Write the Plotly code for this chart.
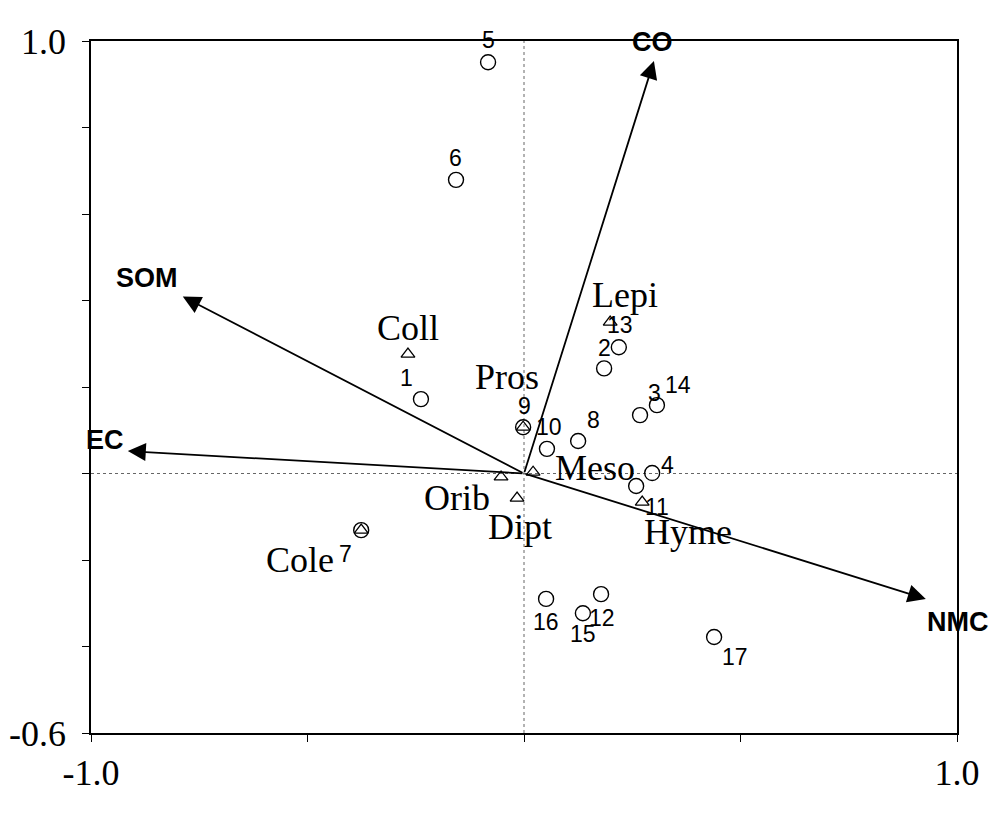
import plotly.graph_objects as go

# ---- data ----
site_ids = [str(i) for i in range(1, 18)]
site_x = [-0.238, 0.185, 0.268, 0.296, -0.083, -0.157, -0.376, 0.125, -0.002,
          0.053, 0.259, 0.178, 0.219, 0.307, 0.136, 0.051, 0.439]
site_y = [0.172, 0.243, 0.135, 0.001, 0.951, 0.679, -0.131, 0.075, 0.107,
          0.057, -0.029, -0.279, 0.292, 0.158, -0.323, -0.290, -0.378]

species_names = ["Coll", "Pros", "Lepi", "Meso", "Orib", "Dipt", "Hyme", "Cole"]
species_x = [-0.268, -0.002, 0.199, 0.021, -0.053, -0.016, 0.273, -0.376]
species_y = [0.276, 0.107, 0.350, 0.003, -0.008, -0.057, -0.066, -0.131]

env_names = ["CO", "SOM", "EC", "NMC"]
env_x = [0.300, -0.788, -0.915, 0.928]
env_y = [0.954, 0.409, 0.052, -0.290]

x_tick_vals = [-1.0, -0.5, 0.0, 0.5, 1.0]
x_tick_text = ["-1.0", "", "", "", "1.0"]
y_tick_vals = [-0.6, -0.4, -0.2, 0.0, 0.2, 0.4, 0.6, 0.8, 1.0]
y_tick_text = ["-0.6", "", "", "", "", "", "", "", "1.0"]

# ---- label offsets (pixels: dx right, dy down) ----
site_off = [(-14, -21), (0, -20), (14, -22), (15, -8), (0, -22), (-1, -22),
            (-16, 24), (15, -21), (1, -21), (2, -22), (21, 21), (1, 24),
            (1, -22), (21, -20), (0, 21), (0, 23), (21, 20)]
species_off = [(0, -26), (-16, -50), (15, -27), (62, -4), (-44, 21), (3, 29),
               (46, 30), (-61, 30)]
env_off = [(-1, -19), (-36, -19), (-23, -11), (32, 23)]

fig = go.Figure()

fig.add_trace(go.Scatter(
    x=site_x, y=site_y, mode="markers",
    marker=dict(symbol="circle-open", size=15, color="black", line=dict(width=1.4)),
    hoverinfo="skip", showlegend=False))
fig.add_trace(go.Scatter(
    x=species_x, y=species_y, mode="markers",
    marker=dict(symbol="triangle-up-open", size=12, color="black", line=dict(width=1.3)),
    hoverinfo="skip", showlegend=False))

annotations = []
for name, x, y in zip(env_names, env_x, env_y):
    annotations.append(dict(x=x, y=y, ax=0, ay=0, xref="x", yref="y",
                            axref="x", ayref="y", text="", showarrow=True,
                            arrowhead=2, arrowsize=2.0, arrowwidth=1.8,
                            arrowcolor="black"))
for (name, x, y), (dx, dy) in zip(zip(env_names, env_x, env_y), env_off):
    annotations.append(dict(x=x, y=y, xref="x", yref="y", text="<b>%s</b>" % name,
                            showarrow=False, xshift=dx, yshift=-dy,
                            font=dict(family="Liberation Sans, Arial", size=27, color="black")))
for (name, x, y), (dx, dy) in zip(zip(site_ids, site_x, site_y), site_off):
    annotations.append(dict(x=x, y=y, xref="x", yref="y", text=name,
                            showarrow=False, xshift=dx, yshift=-dy,
                            font=dict(family="Liberation Sans, Arial", size=23, color="black")))
for (name, x, y), (dx, dy) in zip(zip(species_names, species_x, species_y), species_off):
    annotations.append(dict(x=x, y=y, xref="x", yref="y", text=name,
                            showarrow=False, xshift=dx, yshift=-dy,
                            font=dict(family="Liberation Serif, Times New Roman", size=36, color="black")))

shapes = [
    dict(type="line", xref="x", yref="y", x0=0, x1=0, y0=-0.6, y1=1.0,
         line=dict(color="#666666", width=1, dash="dot"), layer="below"),
    dict(type="line", xref="x", yref="y", x0=-1, x1=1, y0=0, y1=0,
         line=dict(color="#666666", width=1, dash="dot"), layer="below"),
]

fig.update_layout(
    width=1000, height=831,
    margin=dict(l=83, r=51, t=33, b=106),
    paper_bgcolor="white", plot_bgcolor="white",
    annotations=annotations, shapes=shapes,
    font=dict(family="Liberation Serif, Times New Roman", size=36, color="black"),
)
fig.update_xaxes(range=[-1, 1], tickvals=x_tick_vals, ticktext=x_tick_text,
                 ticks="outside", ticklen=7, tickwidth=1.3, tickcolor="black",
                 showline=True, linecolor="black", linewidth=1.8, mirror=True,
                 showgrid=False, zeroline=False, ticklabelstandoff=0, automargin=False)
fig.update_yaxes(range=[-0.6, 1.0], tickvals=y_tick_vals, ticktext=y_tick_text,
                 ticks="outside", ticklen=7, tickwidth=1.3, tickcolor="black",
                 showline=True, linecolor="black", linewidth=1.8, mirror=True,
                 showgrid=False, zeroline=False, ticklabelstandoff=9, automargin=False)

fig.write_html("out.html")
